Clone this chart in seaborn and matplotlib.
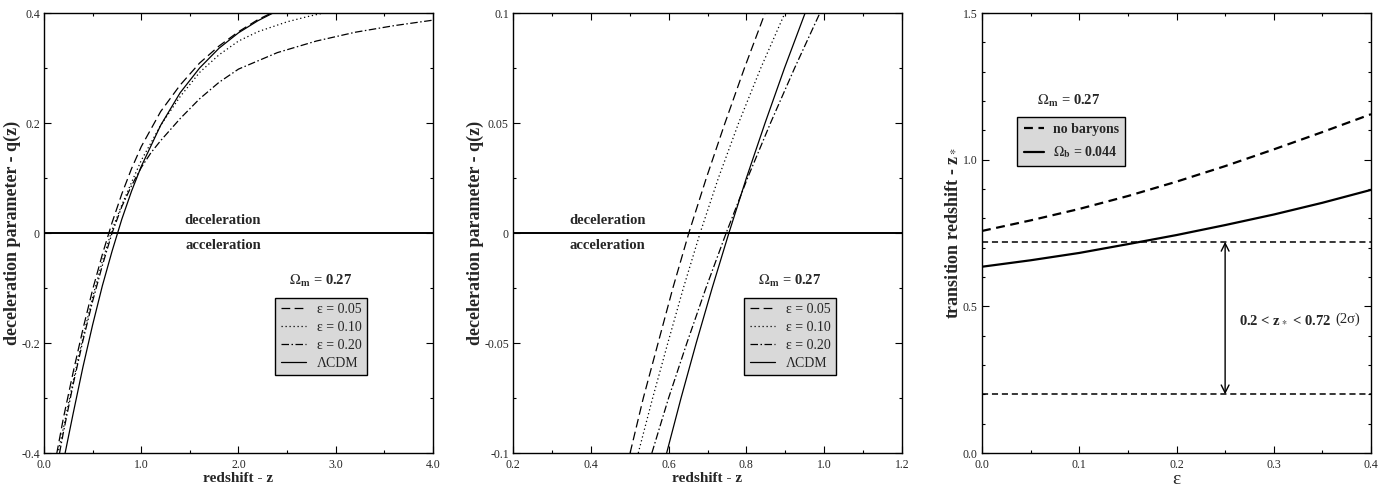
import matplotlib
matplotlib.use("Agg")
import matplotlib.pyplot as plt
import seaborn as sns
from matplotlib.ticker import MultipleLocator, FuncFormatter

# ---- left panel: q(z), 0 < z < 4 ----
z_p1_lcdm = [0.2, 0.3, 0.4, 0.5, 0.6, 0.7, 0.8, 0.9, 1.0, 1.2, 1.4, 1.6, 1.8, 2.0, 2.2, 2.4]
q_p1_lcdm = [-0.415, -0.328, -0.244, -0.167, -0.096, -0.033, 0.025, 0.076, 0.121,
             0.196, 0.255, 0.300, 0.336, 0.364, 0.386, 0.404]

z_p1_e05 = [0.13, 0.2, 0.3, 0.4, 0.5, 0.6, 0.7, 0.8, 0.9, 1.0, 1.2, 1.4, 1.6, 1.8, 2.0, 2.2, 2.35]
q_p1_e05 = [-0.402, -0.336, -0.253, -0.175, -0.103, -0.039, 0.019, 0.071, 0.117,
            0.157, 0.221, 0.269, 0.309, 0.340, 0.366, 0.388, 0.401]

z_p1_e10 = [0.15, 0.2, 0.3, 0.4, 0.5, 0.6, 0.7, 0.8, 0.9, 1.0, 1.2, 1.4, 1.6, 1.8, 2.0,
            2.2, 2.5, 2.7, 2.9]
q_p1_e10 = [-0.395, -0.354, -0.269, -0.190, -0.117, -0.051, 0.006, 0.051, 0.092,
            0.132, 0.196, 0.248, 0.292, 0.324, 0.349, 0.366, 0.384, 0.393, 0.401]

z_p1_e20 = [0.16, 0.2, 0.3, 0.4, 0.5, 0.6, 0.7, 0.8, 0.9, 1.0, 1.1, 1.2, 1.4, 1.6, 1.8,
            2.0, 2.4, 2.8, 3.2, 3.6, 4.0]
q_p1_e20 = [-0.400, -0.362, -0.275, -0.196, -0.124, -0.059, 0.000, 0.048, 0.086,
            0.119, 0.146, 0.168, 0.208, 0.244, 0.274, 0.298, 0.328, 0.349, 0.365,
            0.377, 0.387]

# ---- middle panel: zoom around the transition ----
q_p2 = [-0.1, -0.075, -0.05, -0.025, 0.0, 0.025, 0.05, 0.075, 0.1]
z_p2_e05 = [0.501, 0.535, 0.573, 0.611, 0.652, 0.697, 0.745, 0.795, 0.848]
z_p2_e10 = [0.522, 0.559, 0.598, 0.638, 0.681, 0.728, 0.780, 0.837, 0.899]
z_p2_e20 = [0.557, 0.600, 0.647, 0.696, 0.748, 0.803, 0.862, 0.924, 0.989]
z_p2_lcdm = [0.595, 0.632, 0.671, 0.712, 0.755, 0.800, 0.848, 0.898, 0.951]

# ---- right panel: transition redshift vs epsilon ----
eps = [0.0, 0.05, 0.1, 0.15, 0.2, 0.25, 0.3, 0.35, 0.4]
zt_nobaryon = [0.757, 0.793, 0.832, 0.876, 0.925, 0.978, 1.035, 1.094, 1.155]
zt_baryon = [0.635, 0.657, 0.682, 0.712, 0.743, 0.777, 0.813, 0.853, 0.897]
zt_bounds = [0.2, 0.72]   # 2 sigma interval
arrow_eps = 0.25

model_labels = ["ε = 0.05", "ε = 0.10", "ε = 0.20", "ΛCDM"]
model_styles = [(0, (7, 3.5)), (0, (1, 2.2)), (0, (6, 2, 1.2, 2)), "-"]

sns.set_theme(style="ticks")
plt.rcParams["font.family"] = ["Liberation Serif", "DejaVu Serif"]
plt.rcParams["mathtext.fontset"] = "stix"
plt.rcParams["axes.unicode_minus"] = False
plt.rcParams["axes.linewidth"] = 1.0
plt.rcParams["axes.edgecolor"] = "black"

LEG_KW = dict(frameon=True, fancybox=False, framealpha=1, facecolor="#d9d9d9",
              edgecolor="black", borderaxespad=0, handlelength=1.8,
              handletextpad=0.8, borderpad=0.4, labelspacing=0.35,
              prop={"family": "Liberation Serif", "size": 10})


def style_axes(ax, xlim, ylim, xmaj, xmin, ymaj, ymin, xfmt, yfmt):
    ax.set_xlim(*xlim)
    ax.set_ylim(*ylim)
    ax.xaxis.set_major_locator(MultipleLocator(xmaj))
    ax.xaxis.set_minor_locator(MultipleLocator(xmin))
    ax.yaxis.set_major_locator(MultipleLocator(ymaj))
    ax.yaxis.set_minor_locator(MultipleLocator(ymin))
    ax.xaxis.set_major_formatter(FuncFormatter(xfmt))
    ax.yaxis.set_major_formatter(FuncFormatter(yfmt))
    ax.tick_params(which="both", direction="in", top=True, right=True,
                   labelsize=8.5, color="black")
    ax.tick_params(axis="x", pad=4)
    ax.tick_params(axis="y", pad=3)
    ax.tick_params(which="major", length=5, width=0.8)
    ax.tick_params(which="minor", length=2.5, width=0.8)
    for s in ax.spines.values():
        s.set_color("black")
        s.set_linewidth(1.0)


def fmt_1f(v, _):
    return f"{v:.1f}"


def fmt_g(v, _):
    return "0" if abs(v) < 1e-9 else f"{v:g}"


fig = plt.figure(figsize=(13.88, 4.88), dpi=100)
W, H = 389 / 1388, 440 / 488
B = 35 / 488
ax1 = fig.add_axes([44 / 1388, B, W, H])
ax2 = fig.add_axes([513 / 1388, B, W, H])
ax3 = fig.add_axes([982 / 1388, B, W, H])

# panel 1
p1 = [(z_p1_e05, q_p1_e05), (z_p1_e10, q_p1_e10), (z_p1_e20, q_p1_e20), (z_p1_lcdm, q_p1_lcdm)]
for (zz, qq), lab, ls in zip(p1, model_labels, model_styles):
    sns.lineplot(x=zz, y=qq, ax=ax1, color="black", lw=0.9, linestyle=ls,
                 label=lab, estimator=None)

# panel 2
p2 = [z_p2_e05, z_p2_e10, z_p2_e20, z_p2_lcdm]
for zz, lab, ls in zip(p2, model_labels, model_styles):
    sns.lineplot(x=zz, y=q_p2, ax=ax2, color="black", lw=0.9, linestyle=ls,
                 label=lab, estimator=None)

for ax, xlim, ylim, xmaj, xmin, ymaj, ymin, txt_x, dy in [
        (ax1, (0, 4), (-0.4, 0.4), 1.0, 0.5, 0.2, 0.1, 1.84, 0.023),
        (ax2, (0.2, 1.2), (-0.1, 0.1), 0.2, 0.1, 0.05, 0.025, 0.442, 0.0058)]:
    ax.axhline(0, color="black", lw=1.4)
    style_axes(ax, xlim, ylim, xmaj, xmin, ymaj, ymin, fmt_1f, fmt_g)
    ax.set_xlabel("redshift - z", fontsize=11, fontweight="bold", labelpad=1)
    ax.set_ylabel("deceleration parameter - q(z)", fontsize=13, fontweight="bold",
                  labelpad=0)
    ax.text(txt_x, dy, "deceleration", ha="center", va="center", fontsize=10.5,
            fontweight="bold")
    ax.text(txt_x, -dy, "acceleration", ha="center", va="center", fontsize=10.5,
            fontweight="bold")
    ax.legend(loc="upper left", bbox_to_anchor=(0.594, 0.353), **LEG_KW)
    ax.text(0.71, 0.39, r"$\Omega_\mathbf{m}$ = 0.27", transform=ax.transAxes,
            ha="center", va="center", fontsize=10.5, fontweight="bold")

# panel 3
sns.lineplot(x=eps, y=zt_nobaryon, ax=ax3, color="black", lw=1.6,
             linestyle=(0, (4, 2.5)), label="no baryons", estimator=None)
sns.lineplot(x=eps, y=zt_baryon, ax=ax3, color="black", lw=1.6,
             linestyle="-", label=r"$\Omega_\mathbf{b}$ = 0.044", estimator=None)
for b in zt_bounds:
    ax3.axhline(b, color="black", lw=1.1, linestyle=(0, (4, 2.5)))
ax3.annotate("", xy=(arrow_eps, zt_bounds[1]), xytext=(arrow_eps, zt_bounds[0]),
             arrowprops=dict(arrowstyle="<->", color="black", lw=1.0,
                             mutation_scale=14, shrinkA=0, shrinkB=0))
t_rng = ax3.text(0.2645, 0.455, r"0.2 < z$_*$ < 0.72", ha="left", va="center",
                 fontsize=10.5, fontweight="bold")
ax3.annotate("(2σ)", xy=(1, 0.5), xycoords=t_rng, xytext=(3, 0),
             textcoords="offset points", ha="left", va="center", fontsize=10.5)

style_axes(ax3, (0, 0.4), (0, 1.5), 0.1, 0.05, 0.5, 0.1, fmt_1f, fmt_1f)
ax3.set_xlabel("ε", fontsize=14, labelpad=0)
ax3.set_ylabel(r"transition redshift - z$_*$", fontsize=13, fontweight="bold",
               labelpad=2)
leg3 = dict(LEG_KW)
leg3.update(labelspacing=0.6, borderpad=0.45, handlelength=1.5, handletextpad=0.6,
            prop={"family": "Liberation Serif", "size": 10, "weight": "bold"})
ax3.legend(loc="upper left", bbox_to_anchor=(0.091, 0.764), **leg3)
ax3.text(0.224, 0.80, r"$\Omega_\mathbf{m}$ = 0.27", transform=ax3.transAxes,
         ha="center", va="center", fontsize=10.5, fontweight="bold")

fig.savefig("out.png", dpi=100)
